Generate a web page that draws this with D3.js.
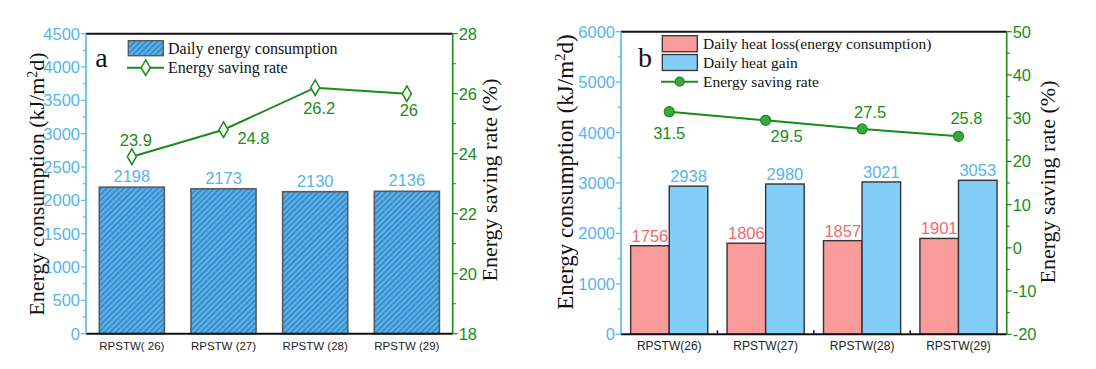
<!DOCTYPE html>
<html><head><meta charset="utf-8">
<script src="https://cdn.jsdelivr.net/npm/d3@7"></script>
<style>
body{margin:0;background:#fff;}
svg{display:block;}
text{font-family:"Liberation Sans",Arial,sans-serif;}
text.serif, text.serif tspan{font-family:"Liberation Serif","Times New Roman",serif;}
</style></head>
<body>
<svg id="c" width="1096" height="369"></svg>
<script>
// ---------- data ----------
const catsA = ["RPSTW( 26)", "RPSTW (27)", "RPSTW (28)", "RPSTW (29)"];
const consumptionA = [2198, 2173, 2130, 2136];
const savingA = [23.9, 24.8, 26.2, 26];
const leftTicksA = [0, 500, 1000, 1500, 2000, 2500, 3000, 3500, 4000, 4500];
const rightTicksA = [18, 20, 22, 24, 26, 28];

const catsB = ["RPSTW(26)", "RPSTW(27)", "RPSTW(28)", "RPSTW(29)"];
const heatLossB = [1756, 1806, 1857, 1901];
const heatGainB = [2938, 2980, 3021, 3053];
const savingB = [31.5, 29.5, 27.5, 25.8];
const leftTicksB = [0, 1000, 2000, 3000, 4000, 5000, 6000];
const rightTicksB = [-20, -10, 0, 10, 20, 30, 40, 50];

// ---------- styles ----------
const BLUE_TXT = "#56b4ee", GREEN = "#1a8c1a", PINK = "#f99a9b", SKY = "#83cdf9", PINK_TXT = "#f06a70";
const svg = d3.select("#c");
const defs = svg.append("defs");
const pat = defs.append("pattern").attr("id", "hatch").attr("patternUnits", "userSpaceOnUse")
  .attr("width", 4).attr("height", 4).attr("patternTransform", "rotate(45)");
pat.append("rect").attr("width", 4).attr("height", 4).attr("fill", "#5cb2e8");
pat.append("rect").attr("x", 0).attr("width", 1.4).attr("height", 4).attr("fill", "#2f7fbf");

function axisSide(g, scale, ticks, minorStep, side, color, x) {
  const dir = side === "left" ? -1 : 1;
  const [d0, d1] = scale.domain();
  g.append("line").attr("x1", x).attr("x2", x).attr("y1", scale(d0)).attr("y2", scale(d1))
    .attr("stroke", color).attr("stroke-width", 1.6);
  const minors = d3.range(d0, d1 + 1e-9, minorStep);
  minors.forEach(v => {
    const major = ticks.some(t => Math.abs(t - v) < 1e-9);
    g.append("line").attr("x1", x).attr("x2", x + dir * (major ? 5 : 3))
      .attr("y1", scale(v)).attr("y2", scale(v)).attr("stroke", color).attr("stroke-width", 1.2);
  });
  ticks.forEach(v => {
    g.append("text").attr("x", x + dir * 6).attr("y", scale(v)).attr("dy", "0.36em")
      .attr("text-anchor", side === "left" ? "end" : "start")
      .attr("font-size", 16.5).attr("fill", color === GREEN ? GREEN : BLUE_TXT).text(v);
  });
}
function yTitle(x, y, size) {
  return svg.append("text").attr("class", "serif").attr("font-size", size).attr("fill", "#111")
    .attr("text-anchor", "middle").attr("transform", `translate(${x},${y}) rotate(-90)`).attr("dy", "0.35em");
}

// ================= Chart a =================
(function () {
  const x0 = 86, x1 = 452.7, yT = 33.7, yB = 333.7;
  const g = svg.append("g");
  const x = d3.scaleBand().domain(catsA).range([x0, x1]).padding(0);
  const y = d3.scaleLinear().domain([0, 4500]).range([yB, yT]);
  const y2 = d3.scaleLinear().domain([18, 28]).range([yB, yT]);
  const bw = x.bandwidth() * 0.71;
  const cx = c => x(c) + x.bandwidth() / 2;

  g.selectAll("rect.bar").data(catsA).join("rect")
    .attr("x", c => cx(c) - bw / 2).attr("y", (c, i) => y(consumptionA[i]))
    .attr("width", bw).attr("height", (c, i) => yB - y(consumptionA[i]))
    .attr("fill", "url(#hatch)").attr("stroke", "#5a5a5a").attr("stroke-width", 1.6);
  g.selectAll("text.bv").data(catsA).join("text")
    .attr("x", c => cx(c)).attr("y", (c, i) => y(consumptionA[i]) - 5)
    .attr("text-anchor", "middle").attr("font-size", 16.5).attr("fill", BLUE_TXT)
    .text((c, i) => consumptionA[i]);

  g.append("line").attr("x1", x0).attr("x2", x1).attr("y1", yT).attr("y2", yT).attr("stroke", "#111").attr("stroke-width", 2);
  g.append("line").attr("x1", x0).attr("x2", x1).attr("y1", yB).attr("y2", yB).attr("stroke", "#111").attr("stroke-width", 2);
  axisSide(g, y, leftTicksA, 250, "left", "#5ab6ee", x0);
  axisSide(g, y2, rightTicksA, 1, "right", GREEN, x1);

  g.selectAll("text.xl").data(catsA).join("text")
    .attr("x", c => cx(c)).attr("y", yB + 16).attr("text-anchor", "middle")
    .attr("font-size", 11.5).attr("fill", "#222").text(c => c);

  const line = d3.line().x((d, i) => cx(catsA[i])).y(d => y2(d));
  g.append("path").datum(savingA).attr("d", line).attr("fill", "none").attr("stroke", GREEN).attr("stroke-width", 2);
  const diamond = d3.symbol().type(d3.symbolDiamond).size(70);
  g.selectAll("path.mk").data(savingA).join("path")
    .attr("transform", (d, i) => `translate(${cx(catsA[i])},${y2(d)})`)
    .attr("d", diamond).attr("fill", "#fff").attr("stroke", GREEN).attr("stroke-width", 1.5);
  const offA = [[4, -17], [30, 8], [4, 20], [2, 16]];
  g.selectAll("text.lv").data(savingA).join("text")
    .attr("x", (d, i) => cx(catsA[i]) + offA[i][0]).attr("y", (d, i) => y2(d) + offA[i][1])
    .attr("dy", "0.36em").attr("text-anchor", "middle").attr("font-size", 16.5).attr("fill", GREEN)
    .text(d => d);

  g.append("rect").attr("x", 128.3).attr("y", 40.7).attr("width", 35).attr("height", 15)
    .attr("fill", "url(#hatch)").attr("stroke", "#5a5a5a").attr("stroke-width", 1.4);
  g.append("text").attr("class", "serif").attr("x", 168).attr("y", 53.5).attr("font-size", 16).attr("fill", "#111").text("Daily energy consumption");
  g.append("line").attr("x1", 127).attr("x2", 164).attr("y1", 67.7).attr("y2", 67.7).attr("stroke", GREEN).attr("stroke-width", 2);
  g.append("path").attr("transform", "translate(145.7,67.7)").attr("d", diamond).attr("fill", "#fff").attr("stroke", GREEN).attr("stroke-width", 1.5);
  g.append("text").attr("class", "serif").attr("x", 168).attr("y", 73).attr("font-size", 16).attr("fill", "#111").text("Energy saving rate");
  g.append("text").attr("class", "serif").attr("x", 101.5).attr("y", 67).attr("text-anchor", "middle").attr("font-size", 28).attr("fill", "#111").text("a");

  const t1 = yTitle(36, 184, 22);
  t1.append("tspan").text("Energy consumption (kJ/m");
  t1.append("tspan").attr("baseline-shift", "super").attr("font-size", 14).text("2");
  t1.append("tspan").text("d)");
  yTitle(489, 180, 22).text("Energy saving rate (%)");
})();

// ================= Chart b =================
(function () {
  const x0 = 621, x1 = 1006.7, yT = 31.7, yB = 334.3;
  const g = svg.append("g");
  const x = d3.scaleBand().domain(catsB).range([x0, x1]).padding(0);
  const y = d3.scaleLinear().domain([0, 6000]).range([yB, yT]);
  const y2 = d3.scaleLinear().domain([-20, 50]).range([yB, yT]);
  const bw = x.bandwidth() * 0.4;
  const cx = c => x(c) + x.bandwidth() / 2;

  g.selectAll("rect.loss").data(catsB).join("rect")
    .attr("x", c => cx(c) - bw).attr("y", (c, i) => y(heatLossB[i]))
    .attr("width", bw).attr("height", (c, i) => yB - y(heatLossB[i]))
    .attr("fill", PINK).attr("stroke", "#333").attr("stroke-width", 1.4);
  g.selectAll("rect.gain").data(catsB).join("rect")
    .attr("x", c => cx(c)).attr("y", (c, i) => y(heatGainB[i]))
    .attr("width", bw).attr("height", (c, i) => yB - y(heatGainB[i]))
    .attr("fill", SKY).attr("stroke", "#333").attr("stroke-width", 1.4);
  g.selectAll("text.lossv").data(catsB).join("text")
    .attr("x", c => cx(c) - bw / 2).attr("y", (c, i) => y(heatLossB[i]) - 4)
    .attr("text-anchor", "middle").attr("font-size", 16.5).attr("fill", PINK_TXT).text((c, i) => heatLossB[i]);
  g.selectAll("text.gainv").data(catsB).join("text")
    .attr("x", c => cx(c) + bw / 2).attr("y", (c, i) => y(heatGainB[i]) - 4)
    .attr("text-anchor", "middle").attr("font-size", 16.5).attr("fill", BLUE_TXT).text((c, i) => heatGainB[i]);

  g.append("line").attr("x1", x0).attr("x2", x1).attr("y1", yT).attr("y2", yT).attr("stroke", "#111").attr("stroke-width", 2);
  g.append("line").attr("x1", x0).attr("x2", x1).attr("y1", yB).attr("y2", yB).attr("stroke", "#111").attr("stroke-width", 2);
  catsB.slice(1).forEach(c => {
    g.append("line").attr("x1", x(c)).attr("x2", x(c)).attr("y1", yB).attr("y2", yB - 4).attr("stroke", "#111").attr("stroke-width", 1.5);
  });
  axisSide(g, y, leftTicksB, 500, "left", "#5ab6ee", x0);
  axisSide(g, y2, rightTicksB, 5, "right", GREEN, x1);

  g.selectAll("text.xl").data(catsB).join("text")
    .attr("x", c => cx(c)).attr("y", yB + 16).attr("text-anchor", "middle")
    .attr("font-size", 12).attr("fill", "#222").text(c => c);

  const line = d3.line().x((d, i) => cx(catsB[i])).y(d => y2(d));
  g.append("path").datum(savingB).attr("d", line).attr("fill", "none").attr("stroke", GREEN).attr("stroke-width", 2);
  g.selectAll("circle.mk").data(savingB).join("circle")
    .attr("cx", (d, i) => cx(catsB[i])).attr("cy", d => y2(d)).attr("r", 5)
    .attr("fill", "#3aa83a").attr("stroke", GREEN).attr("stroke-width", 1.2);
  const offB = [[0, 21], [21, 16], [8, -17], [8, -18]];
  g.selectAll("text.lv").data(savingB).join("text")
    .attr("x", (d, i) => cx(catsB[i]) + offB[i][0]).attr("y", (d, i) => y2(d) + offB[i][1])
    .attr("dy", "0.36em").attr("text-anchor", "middle").attr("font-size", 16.5).attr("fill", GREEN)
    .text(d => d);

  g.append("rect").attr("x", 662.3).attr("y", 35.7).attr("width", 35).attr("height", 16)
    .attr("fill", PINK).attr("stroke", "#333").attr("stroke-width", 1.3);
  g.append("rect").attr("x", 662.3).attr("y", 54.5).attr("width", 35).attr("height", 16)
    .attr("fill", SKY).attr("stroke", "#333").attr("stroke-width", 1.3);
  g.append("text").attr("class", "serif").attr("x", 703).attr("y", 49).attr("font-size", 15.5).attr("fill", "#111").text("Daily heat loss(energy consumption)");
  g.append("text").attr("class", "serif").attr("x", 703).attr("y", 68).attr("font-size", 15.5).attr("fill", "#111").text("Daily heat gain");
  g.append("line").attr("x1", 661).attr("x2", 698).attr("y1", 81.7).attr("y2", 81.7).attr("stroke", GREEN).attr("stroke-width", 2);
  g.append("circle").attr("cx", 679.7).attr("cy", 81.7).attr("r", 4.5).attr("fill", "#3aa83a").attr("stroke", GREEN).attr("stroke-width", 1.2);
  g.append("text").attr("class", "serif").attr("x", 703).attr("y", 87).attr("font-size", 15.5).attr("fill", "#111").text("Energy saving rate");
  g.append("text").attr("class", "serif").attr("x", 645).attr("y", 67).attr("text-anchor", "middle").attr("font-size", 28).attr("fill", "#111").text("b");

  const t1 = yTitle(565, 172, 23);
  t1.append("tspan").text("Energy consumption (kJ/m");
  t1.append("tspan").attr("baseline-shift", "super").attr("font-size", 15).text("2");
  t1.append("tspan").text("d)");
  yTitle(1047, 182, 22).text("Energy saving rate (%)");
})();
</script>
</body></html>
